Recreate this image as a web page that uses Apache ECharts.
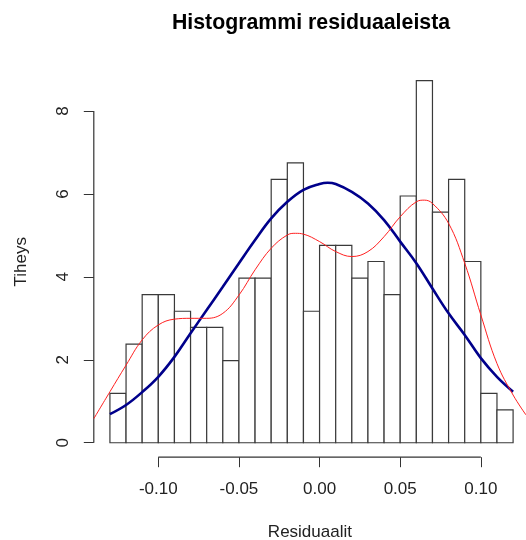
<!DOCTYPE html>
<html>
<head>
<meta charset="utf-8">
<script src="https://cdn.jsdelivr.net/npm/echarts@6/dist/echarts.min.js"></script>
<style>html,body{margin:0;padding:0;background:#fff;}#chart{width:526px;height:540px;}</style>
</head>
<body>
<div id="chart"></div>
<script>
// Histogram bin edges (width 0.01)
const binEdges = [-0.13,-0.12,-0.11,-0.10,-0.09,-0.08,-0.07,-0.06,-0.05,-0.04,-0.03,-0.02,-0.01,0.00,0.01,0.02,0.03,0.04,0.05,0.06,0.07,0.08,0.09,0.10,0.11,0.12];
// Density of each bin
const densities = [1.19,2.38,3.57,3.57,3.17,2.78,2.78,1.98,3.97,3.97,6.35,6.75,3.17,4.76,4.76,3.97,4.37,3.57,5.95,8.73,5.56,6.35,4.37,1.19,0.79];
// Normal density curve (blue)
const normalX = [-0.13,-0.12,-0.11,-0.10,-0.09,-0.08,-0.07,-0.06,-0.05,-0.04,-0.03,-0.02,-0.01,0.00,0.005,0.01,0.02,0.03,0.04,0.05,0.06,0.07,0.08,0.09,0.10,0.11,0.12];
const normalY = [0.69,0.91,1.22,1.59,2.07,2.64,3.20,3.76,4.33,4.89,5.41,5.81,6.10,6.24,6.27,6.24,6.05,5.77,5.37,4.85,4.33,3.72,3.12,2.60,2.04,1.59,1.23];
// Kernel density curve (red)
const kdeX = [-0.14,-0.13,-0.12,-0.11,-0.10,-0.09,-0.08,-0.07,-0.06,-0.05,-0.04,-0.03,-0.02,-0.015,-0.01,0.00,0.01,0.02,0.03,0.04,0.05,0.06,0.065,0.07,0.08,0.09,0.10,0.11,0.12,0.128];
const kdeY = [0.58,1.23,1.87,2.48,2.84,2.98,3.00,3.00,3.12,3.56,4.17,4.69,5.01,5.05,5.03,4.85,4.61,4.49,4.61,4.97,5.45,5.81,5.85,5.77,5.29,4.33,3.08,1.91,1.15,0.67];
// Tick values
const xTicks = [-0.10,-0.05,0.00,0.05,0.10];
const yTicks = [0,2,4,6,8];

const X_MIN = -0.14, X_MAX = 0.128, Y_MIN = -0.349, Y_MAX = 9.08;
const FONT = 'Liberation Sans, Arial, sans-serif';
const AXIS_COLOR = '#333';

const bars = densities.map((d, i) => [binEdges[i], binEdges[i + 1], d]);

const chart = echarts.init(document.getElementById('chart'));
chart.setOption({
  animation: false,
  backgroundColor: '#fff',
  title: {
    text: 'Histogrammi residuaaleista',
    left: 306, top: 8, textAlign: 'center',
    textStyle: { fontFamily: FONT, fontWeight: 'bold', fontSize: 21.3, color: '#000' }
  },
  grid: { left: 93.8, right: 0, top: 66.2, bottom: 82.8, containLabel: false, outerBoundsMode: 'none' },
  xAxis: {
    type: 'value', min: X_MIN, max: X_MAX,
    name: 'Residuaalit', nameLocation: 'middle', nameGap: 67,
    nameTextStyle: { fontFamily: FONT, fontSize: 17, color: '#222' },
    axisLine: { show: false, onZero: false },
    splitLine: { show: false },
    axisTick: { show: true, customValues: xTicks, length: 10, lineStyle: { color: AXIS_COLOR } },
    axisLabel: { customValues: xTicks, margin: 24, fontFamily: FONT, fontSize: 17, color: '#222',
      formatter: v => v.toFixed(2) }
  },
  yAxis: {
    type: 'value', min: Y_MIN, max: Y_MAX,
    name: 'Tiheys', nameLocation: 'middle', nameGap: 64,
    nameTextStyle: { fontFamily: FONT, fontSize: 17, color: '#222' },
    axisLine: { show: false, onZero: false },
    splitLine: { show: false },
    axisTick: { show: true, customValues: yTicks, length: 10, lineStyle: { color: AXIS_COLOR } },
    axisLabel: { customValues: yTicks, rotate: 90, margin: 22, fontFamily: FONT, fontSize: 17, color: '#222' }
  },
  series: [
    {
      type: 'custom',
      data: bars,
      renderItem: (params, api) => {
        const p0 = api.coord([api.value(0), api.value(2)]);
        const p1 = api.coord([api.value(1), 0]);
        return {
          type: 'rect',
          shape: { x: p0[0], y: p0[1], width: p1[0] - p0[0], height: p1[1] - p0[1] },
          style: { fill: '#fff', stroke: '#3a3a3a', lineWidth: 1.2 }
        };
      },
      silent: true, z: 2
    },
    {
      type: 'line', data: normalX.map((x, i) => [x, normalY[i]]),
      smooth: 0.4, showSymbol: false, symbol: 'none',
      lineStyle: { color: '#00008B', width: 2.6 }, z: 4, silent: true
    },
    {
      type: 'line', data: kdeX.map((x, i) => [x, kdeY[i]]),
      smooth: 0.4, showSymbol: false, symbol: 'none',
      lineStyle: { color: '#ff2020', width: 1 }, z: 5, silent: true
    },
    {
      type: 'line', data: [[xTicks[0], Y_MIN], [xTicks[xTicks.length - 1], Y_MIN]],
      showSymbol: false, symbol: 'none', clip: false,
      lineStyle: { color: AXIS_COLOR, width: 1.2 }, silent: true
    },
    {
      type: 'line', data: [[X_MIN, yTicks[0]], [X_MIN, yTicks[yTicks.length - 1]]],
      showSymbol: false, symbol: 'none', clip: false,
      lineStyle: { color: AXIS_COLOR, width: 1.2 }, silent: true
    }
  ]
});
</script>
</body>
</html>
